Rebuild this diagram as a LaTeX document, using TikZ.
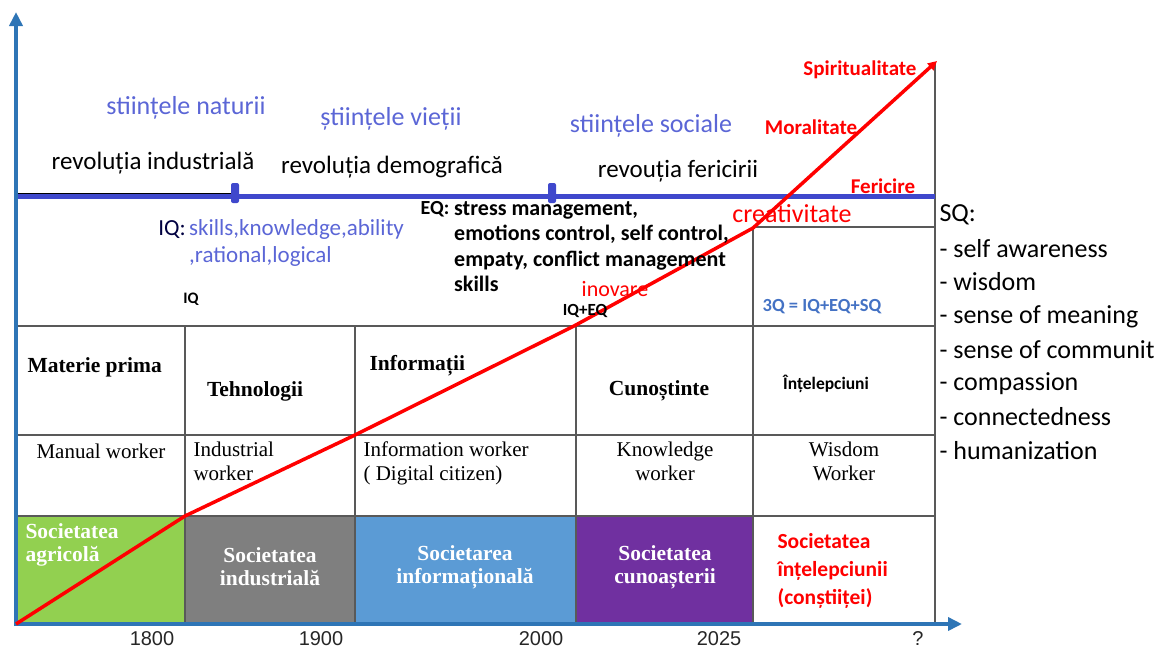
\documentclass[tikz,border=0pt]{standalone}
\usepackage{fontspec}
\setmainfont{Carlito}
\newfontfamily\tabfont{Liberation Serif}
\newfontfamily\yearfont{Liberation Sans}
\usetikzlibrary{arrows.meta}
\definecolor{axis_blue}{HTML}{2E75B6}
\definecolor{line_blue}{HTML}{3F48CC}
\definecolor{sci_blue}{HTML}{5B66D6}
\definecolor{q_blue}{HTML}{4472C4}
\definecolor{grid_gray}{HTML}{595959}
\definecolor{agri_green}{HTML}{92D050}
\definecolor{ind_gray}{HTML}{7F7F7F}
\definecolor{info_blue}{HTML}{5B9BD5}
\definecolor{know_purple}{HTML}{7030A0}

\begin{document}
\begin{tikzpicture}[x=1pt, y=-1pt,
    sci/.style={text=sci_blue, font=\fontsize{26}{30}\selectfont},
    rev/.style={font=\fontsize{25}{30}\selectfont},
    val/.style={text=red, font=\bfseries\fontsize{21}{25}\selectfont},
    head/.style={font=\tabfont\bfseries\fontsize{21.5}{25}\selectfont},
    worker/.style={font=\tabfont\fontsize{21}{24}\selectfont},
    soc/.style={text=white, align=center, font=\tabfont\bfseries\fontsize{21.5}{23}\selectfont},
    year/.style={text=black!85, font=\yearfont\fontsize{20}{22}\selectfont},
    sq/.style={anchor=west, font=\fontsize{26}{30}\selectfont}]
    \useasboundingbox (0,0) rectangle (1164,649);

    % societies (bottom row)
    \fill[agri_green] (16,516) rectangle (185,622);
    \fill[ind_gray] (185,516) rectangle (355,622);
    \fill[info_blue] (355,516) rectangle (576,622);
    \fill[know_purple] (576,516) rectangle (753,622);

    % table grid
    \draw[grid_gray, line width=1.3pt] (16,326) -- (935,326);
    \draw[grid_gray, line width=1.3pt] (16,435) -- (935,435);
    \draw[grid_gray, line width=1.3pt] (16,516) -- (935,516);
    \draw[grid_gray, line width=1.3pt] (753,227) -- (935,227);
    \foreach \x in {185,355,576}
        \draw[grid_gray, line width=1.3pt] (\x,326) -- (\x,622);
    \draw[grid_gray, line width=1.3pt] (753,227) -- (753,622);
    \draw[grid_gray, line width=1.3pt] (935,64) -- (935,622);

    % revolutions line
    \draw[black, line width=1.5pt] (16,193.3) -- (235,193.3);
    \draw[line_blue, line width=5pt] (16,196.5) -- (935,196.5);
    \fill[line_blue, rounded corners=2pt] (231,183) rectangle (239,203);
    \fill[line_blue, rounded corners=2pt] (548,183) rectangle (556,203);

    % axes
    \draw[axis_blue, line width=4pt, -{Triangle[length=14pt,width=13pt]}] (16,626) -- (16,12);
    \draw[axis_blue, line width=4pt, -{Triangle[length=14pt,width=13pt]}] (14,624) -- (962,624);

    % growth line
    \draw[red, line width=3.5pt, -{Triangle[length=9pt,width=9pt]}]
        (16,624) -- (185,516) -- (355,435) -- (574,326) -- (753,228) -- (937,61);

    % sciences and revolutions
    \node[sci] (natsci) at (186,108) {stiințele naturii};
    \node[sci] (lifesci) at (391,119) {științele vieții};
    \node[sci] (socsci) at (651,126) {stiințele sociale};
    \node[rev] (revind) at (153,163) {revoluția industrială};
    \node[rev] (revdem) at (392,167) {revoluția demografică};
    \node[rev] (revfer) at (678,171) {revouția fericirii};

    % values on the red line
    \node[val, anchor=east] (spirit) at (920,70) {Spiritualitate};
    \node[val] (moral) at (811,127) {Moralitate};
    \node[val] (happy) at (883,186) {Fericire};
    \node[text=red, font=\fontsize{26}{30}\selectfont] (creat) at (792,214) {creativitate};
    \node[text=red, font=\fontsize{22}{26}\selectfont, inner sep=1pt] (inov) at (615,289) {inovare};

    % intelligences
    \node[text=black!75!blue, font=\fontsize{23}{27}\selectfont] (iqlabel) at (172,230) {IQ:};
    \node[anchor=north west, align=left, inner sep=0pt, text=sci_blue,
        font=\fontsize{23}{27}\selectfont] (iqtext) at (189,219)
        {skills,knowledge,ability\\,rational,logical};
    \node[font=\bfseries\fontsize{20}{24}\selectfont] (eqlabel) at (435,209) {EQ:};
    \node[anchor=north west, align=left, inner sep=0pt,
        font=\bfseries\fontsize{22}{25.5}\selectfont] (eqtext) at (454,201)
        {stress management,\\emotions control, self control,\\empaty, conflict management\\skills};
    \node[font=\bfseries\fontsize{16}{18}\selectfont] (iq) at (191,299) {IQ};
    \node[font=\bfseries\fontsize{17}{20}\selectfont, inner sep=1pt] (iqeq) at (585,311) {IQ+EQ};
    \node[text=q_blue, font=\bfseries\fontsize{18.5}{22}\selectfont] (threeq) at (822,307) {3Q = IQ+EQ+SQ};

    % spiritual intelligence list
    \node[sq] (sqlabel) at (936,215) {SQ:};
    \node[sq] (sq1) at (936,249) {- self awareness};
    \node[sq] (sq2) at (936,282) {- wisdom};
    \node[sq] (sq3) at (936,317) {- sense of meaning};
    \node[sq] (sq4) at (936,350) {- sense of communit};
    \node[sq] (sq5) at (936,384) {- compassion};
    \node[sq] (sq6) at (936,417) {- connectedness};
    \node[sq] (sq7) at (936,451) {- humanization};

    % resources row
    \node[head, anchor=west] (res1) at (24,367) {Materie prima};
    \node[head] (res2) at (255,391) {Tehnologii};
    \node[head, anchor=west] (res3) at (366,366) {Informații};
    \node[head] (res4) at (659,391) {Cunoștinte};
    \node[font=\bfseries\fontsize{17.5}{20}\selectfont] (res5) at (826,384) {Înțelepciuni};

    % workers row
    \node[worker] (wk1) at (101,451) {Manual worker};
    \node[worker, anchor=north west, align=left] (wk2) at (190,438) {Industrial\\worker};
    \node[worker, anchor=north west, align=left] (wk3) at (360,438) {Information worker\\( Digital citizen)};
    \node[worker, anchor=north, align=center] (wk4) at (665,438) {Knowledge\\worker};
    \node[worker, anchor=north, align=center] (wk5) at (844,438) {Wisdom\\Worker};

    % societies row
    \node[soc, anchor=north west, align=left] (soc1) at (22,520) {Societatea\\agricolă};
    \node[soc] (soc2) at (270,567) {Societatea\\industrială};
    \node[soc] (soc3) at (465,567) {Societarea\\informațională};
    \node[soc] (soc4) at (665,567) {Societatea\\cunoașterii};
    \node[anchor=north west, align=left, text=red,
        font=\bfseries\fontsize{21.5}{28}\selectfont] (soc5) at (774,530)
        {Societatea\\înțelepciunii\\(conștiiței)};

    % years
    \node[year] (y1800) at (152,639) {1800};
    \node[year] (y1900) at (321,639) {1900};
    \node[year] (y2000) at (541,639) {2000};
    \node[year] (y2025) at (719,639) {2025};
    \node[year] (yq) at (918,639) {?};
\end{tikzpicture}
\end{document}
